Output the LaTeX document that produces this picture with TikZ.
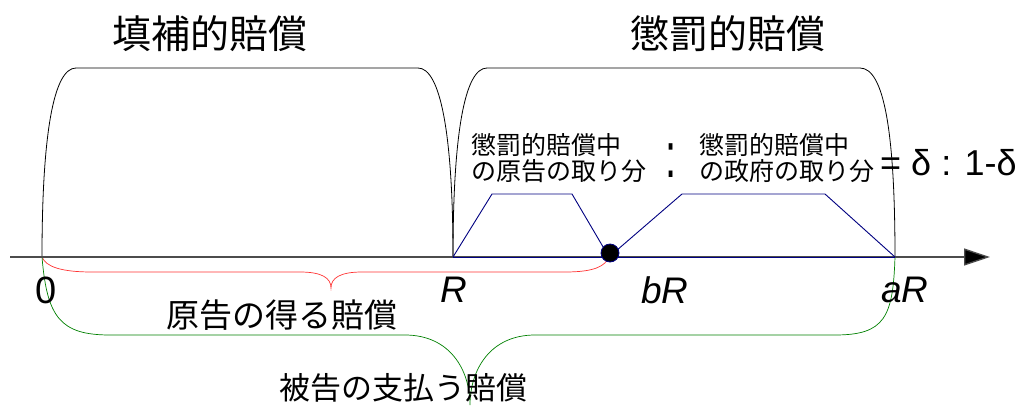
\documentclass[tikz,border=0pt]{standalone}
\usepackage{fontspec}
\setmainfont{Liberation Sans}
\newfontfamily\jpfont{Noto Sans CJK JP}
\usepackage{tikz}
\usetikzlibrary{arrows.meta}

\begin{document}
\begin{tikzpicture}[x=1pt, y=-1pt]
\tikzstyle{archline}=[draw=black, line width=0.8pt]
\tikzstyle{shareline}=[draw=blue!50!black, line width=0.9pt]
\tikzstyle{axisline}=[draw=black!70, line width=1.3pt, -{Triangle[length=26pt, width=17pt, fill=black]}]
\tikzstyle{bigtitle}=[font=\jpfont\fontsize{39}{39}\selectfont, inner sep=0pt]
\tikzstyle{sharetext}=[font=\jpfont\fontsize{25}{26}\selectfont, align=left, inner sep=0pt, anchor=west]
\tikzstyle{pointlabel}=[font=\fontsize{37}{37}\selectfont\itshape, inner sep=0pt]
\tikzstyle{bracetext}=[font=\jpfont\fontsize{33}{33}\selectfont, inner sep=0pt]

\useasboundingbox (0,0) rectangle (1015,405);

% points on the axis
\coordinate (axis-start) at (10,257);
\coordinate (axis-end) at (990,257);
\coordinate (pt-zero) at (42,257);
\coordinate (pt-r) at (453,257);
\coordinate (pt-b) at (609,257);
\coordinate (pt-a) at (895,257);

% the two arches
\path[archline] (pt-zero) .. controls +(0,-125) and +(-22,0) .. (76,68) -- (418,68) .. controls +(22,0) and +(0,-125) .. (pt-r);
\path[archline] (pt-r) .. controls +(0,-125) and +(-22,0) .. (487,68) -- (860,68) .. controls +(24,0) and +(0,-125) .. (pt-a);

% braces under the axis
\path[draw=red!80, line width=0.7pt] (pt-zero) .. controls +(4,10) and +(-30,0) .. (92,272) -- (300,272) .. controls +(22,0) and +(0,-10) .. (331,288) .. controls +(0,-10) and +(-22,0) .. (362,272) -- (565,272) .. controls +(30,0) and +(-4,9) .. (pt-b);
\path[draw=green!50!black, line width=0.7pt] (pt-zero) .. controls +(5,60) and +(-50,0) .. (110,335) -- (405,335) .. controls +(45,0) and +(0,-35) .. (470,405) .. controls +(0,-35) and +(-45,0) .. (535,335) -- (835,335) .. controls +(50,0) and +(-2,60) .. (pt-a);

\path[axisline] (axis-start) -- (axis-end);

% shares of the punitive part
\path[shareline] (pt-r) -- (pt-a);
\path[shareline] (pt-r) -- (492,194) -- (572,194) -- (pt-b);
\path[shareline] (pt-b) -- (682,194) -- (825,194) -- (pt-a);
\node[circle, fill=black, draw=blue!50!black, line width=0.8pt, minimum size=18pt, inner sep=0pt] (split-dot) at (610,253) {};

\node[bigtitle] (title-comp) at (210,34) {填補的賠償};
\node[bigtitle] (title-puni) at (728,34) {懲罰的賠償};

\node[sharetext] (share-plaintiff) at (471,158) {懲罰的賠償中\\の原告の取り分};
\node[sharetext] (share-gov) at (699,158) {懲罰的賠償中\\の政府の取り分};
\node[inner sep=0pt] (share-colon) at (671,161) {\fontsize{40}{40}\selectfont\scalebox{1}[1.6]{:}};
\node[inner sep=0pt, anchor=west, font=\fontsize{36}{36}\selectfont] (share-ratio) at (880,163) {= δ : 1-δ};

\node[pointlabel, font=\fontsize{38}{38}\selectfont] (lbl-zero) at (46,290) {0};
\node[pointlabel] (lbl-r) at (454,290) {R};
\node[pointlabel] (lbl-b) at (665,290) {bR};
\node[pointlabel] (lbl-a) at (905,290) {aR};

\node[bracetext] (lbl-gets) at (282,315) {原告の得る賠償};
\node[bracetext, font=\jpfont\fontsize{31}{31}\selectfont] (lbl-pays) at (403,388) {被告の支払う賠償};
\end{tikzpicture}
\end{document}
